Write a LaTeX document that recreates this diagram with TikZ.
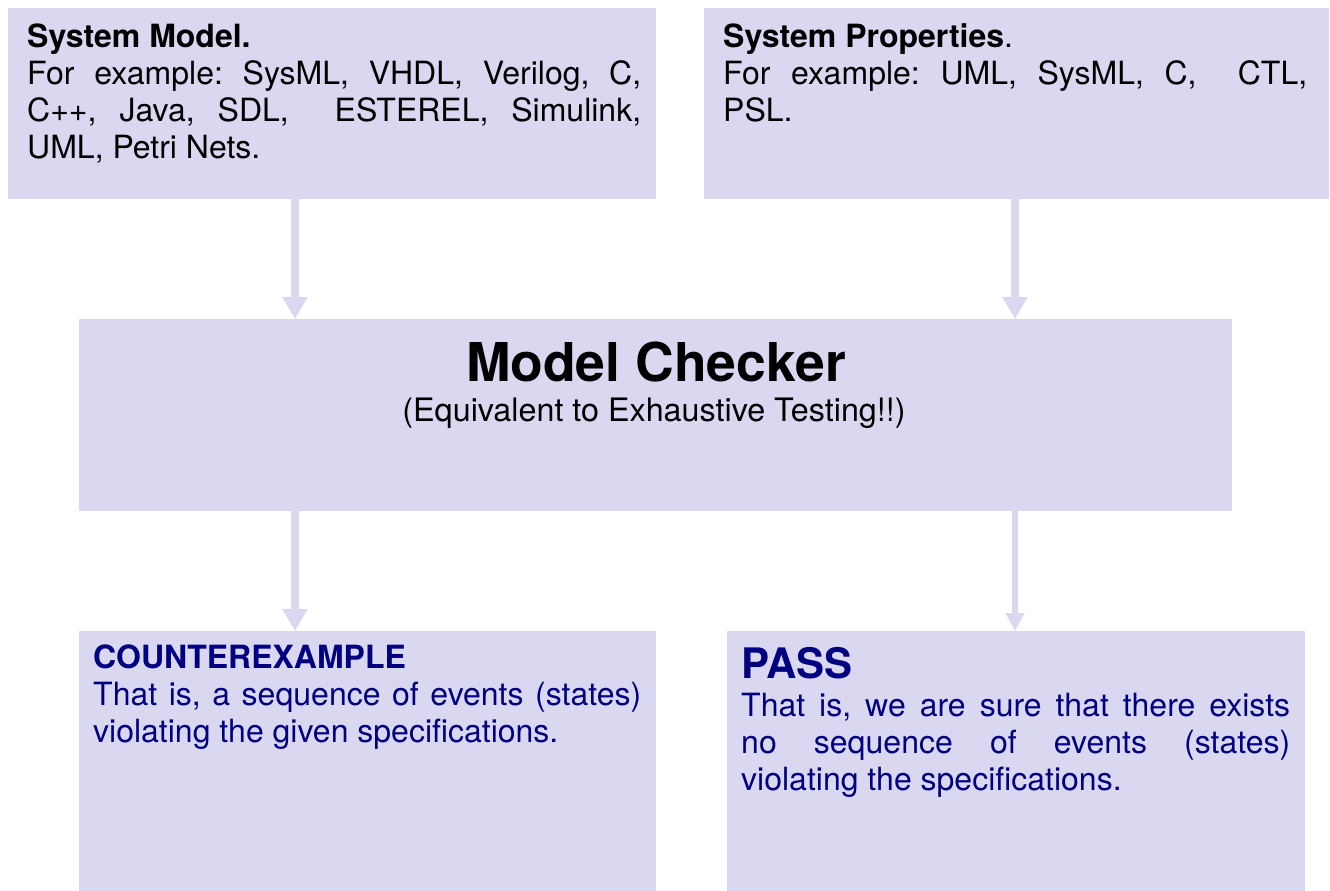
\documentclass[tikz,border=0pt]{standalone}
\usepackage{fontspec}
\setmainfont{TeX Gyre Heros}
\usetikzlibrary{arrows.meta}
\definecolor{boxfill}{RGB}{218,216,240}
\definecolor{navytxt}{RGB}{0,0,128}
\frenchspacing

\begin{document}
\begin{tikzpicture}[x=1pt, y=-1pt,
  box/.style={fill=boxfill, draw=none, inner sep=0pt, anchor=north west},
  txt/.style={inner sep=0pt, anchor=base west, font=\fontsize{32}{37}\selectfont},
  flow/.style={draw=boxfill, line width=7.5pt, -{Triangle[width=24pt,length=22pt]}},
  smallflow/.style={draw=boxfill, line width=6.5pt, -{Triangle[width=18pt,length=18pt]}}]
\useasboundingbox (0,0) rectangle (1330,891);

% Boxes
\node[box, minimum width=648pt, minimum height=191pt] (sysmodel) at (8,8) {};
\node[box, minimum width=625pt, minimum height=191pt] (sysprops) at (704,8) {};
\node[box, minimum width=1153pt, minimum height=192pt] (checker) at (79,319) {};
\node[box, minimum width=577pt, minimum height=260pt] (counter) at (79,631) {};
\node[box, minimum width=578pt, minimum height=260pt] (pass) at (727,631) {};

% Texts
\node[txt] (sysmodeltxt) at (27,48) {\parbox[t]{614pt}{\textbf{System Model.}\\
  For example: SysML, VHDL, Verilog, C,\linebreak
  C++, Java, SDL,\ \ ESTEREL, Simulink,\linebreak
  UML, Petri Nets.}};
\node[txt] (syspropstxt) at (723,48) {\parbox[t]{584pt}{\textbf{System Properties}.\\
  For example: UML, SysML, C,\ \ CTL,\linebreak
  PSL.}};
\node[anchor=base, inner sep=0pt, font=\fontsize{53.5}{60}\selectfont\bfseries] (checkertitle) at (656,381) {Model Checker};
\node[anchor=base, inner sep=0pt, font=\fontsize{32.3}{37}\selectfont] (checkersub) at (654,421) {(Equivalent to Exhaustive Testing!!)};
\node[txt, text=navytxt] (countertxt) at (93,668) {\parbox[t]{548pt}{\textbf{COUNTEREXAMPLE}\\
  That is, a sequence of events (states)\linebreak
  violating the given specifications.}};
\node[txt, text=navytxt, anchor=base west] (passtitle) at (741,678) {\fontsize{42}{48}\selectfont\bfseries PASS};
\node[txt, text=navytxt] (passtxt) at (741,716) {\parbox[t]{549pt}{That is, we are sure that there exists\linebreak
  no sequence of events (states)\linebreak
  violating the specifications.}};

% Arrows
\coordinate (leftx) at (295,0);
\coordinate (rightx) at (1015,0);
\draw[flow] (leftx |- sysmodel.south) -- (leftx |- checker.north);
\draw[flow] (rightx |- sysprops.south) -- (rightx |- checker.north);
\draw[flow] (leftx |- checker.south) -- (leftx |- counter.north);
\draw[smallflow] (rightx |- checker.south) -- (rightx |- pass.north);

\end{tikzpicture}
\end{document}
